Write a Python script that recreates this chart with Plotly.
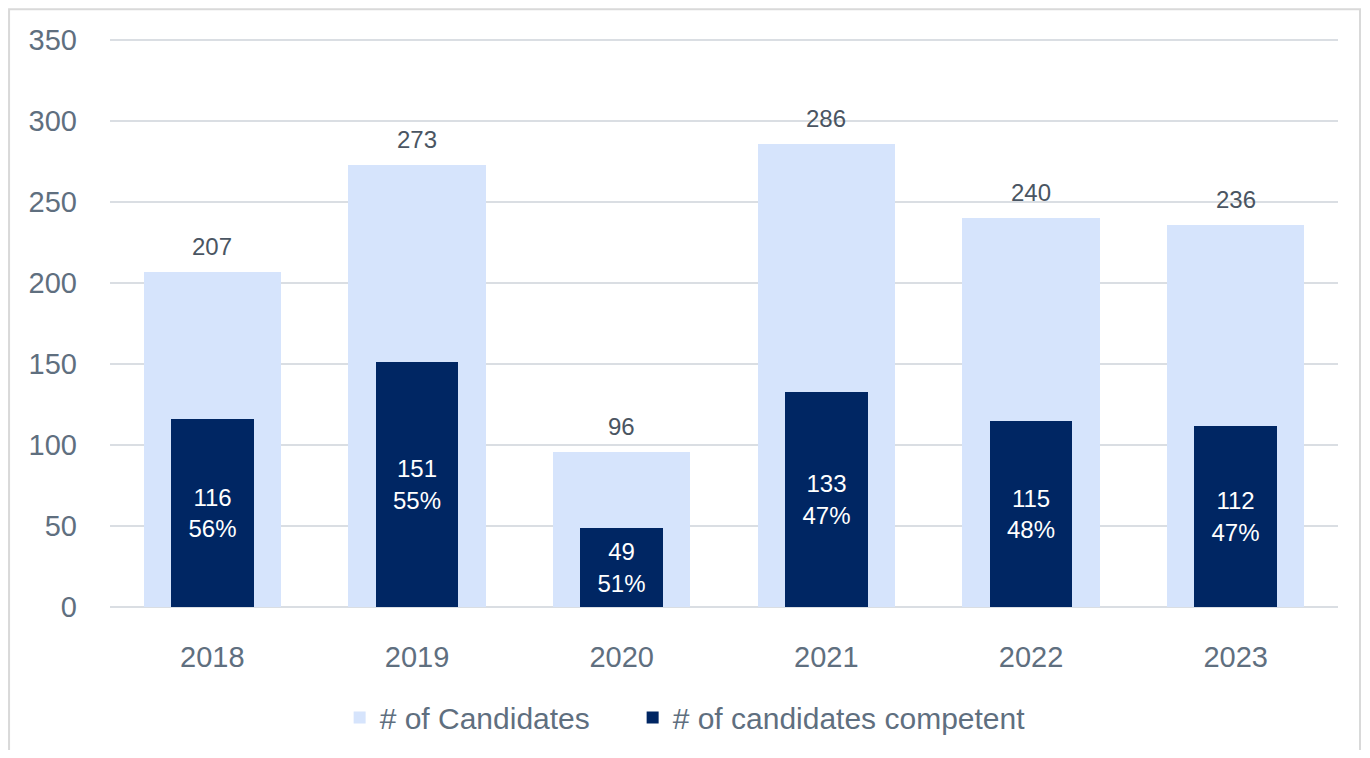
import plotly.graph_objects as go

years = ["2018", "2019", "2020", "2021", "2022", "2023"]
candidates = [207, 273, 96, 286, 240, 236]
competent = [116, 151, 49, 133, 115, 112]
competent_pct = ["56%", "55%", "51%", "47%", "48%", "47%"]
y_ticks = [0, 50, 100, 150, 200, 250, 300, 350]

FONT = "Liberation Sans"
TICK_COLOR = "#5f6f7f"
LABEL_COLOR = "#4a5562"
LIGHT = "#d6e4fc"
DARK = "#002663"
GRID = "#dadee3"

fig = go.Figure()
fig.add_trace(go.Bar(
    x=years, y=candidates, name="# of Candidates",
    marker=dict(color=LIGHT, line=dict(width=0)),
    width=0.67, legend="legend",
))
fig.add_trace(go.Bar(
    x=years, y=competent, name="# of candidates competent",
    marker=dict(color=DARK, line=dict(width=0)),
    width=0.405, legend="legend2",
    text=[f"{v}<br>{p}" for v, p in zip(competent, competent_pct)],
    textposition="inside", insidetextanchor="middle",
    textfont=dict(family=FONT, size=24, color="white"),
    constraintext="none", textangle=0,
))

for i, v in enumerate(candidates):
    fig.add_annotation(
        x=i, y=v, text=str(v), showarrow=False,
        yanchor="bottom", yshift=10,
        font=dict(family=FONT, size=24, color=LABEL_COLOR),
    )

# outer frame
fig.add_shape(type="rect", xref="paper", yref="paper",
              x0=-0.0822, x1=1.0179, y0=-0.3, y1=1.0487,
              line=dict(color="#d9d9d9", width=2), fillcolor="rgba(0,0,0,0)",
              layer="below")

legend_common = dict(orientation="h", y=-0.194, yanchor="middle", xanchor="left",
                     font=dict(family=FONT, size=30, color=TICK_COLOR),
                     itemwidth=30, bgcolor="rgba(0,0,0,0)")

fig.update_layout(
    width=1354, height=742,
    margin=dict(l=102, r=24, t=29, b=143, autoexpand=False),
    paper_bgcolor="white", plot_bgcolor="white",
    barmode="overlay", bargap=0,
    font=dict(family=FONT, color=TICK_COLOR),
    showlegend=True,
    legend=dict(x=0.187, **legend_common),
    legend2=dict(x=0.4256, **legend_common),
    xaxis=dict(type="category", showgrid=False, showline=False, zeroline=False,
               range=[-0.5, len(years) - 0.5],
               tickfont=dict(family=FONT, size=29, color=TICK_COLOR),
               ticks="", ticklabelstandoff=30),
    yaxis=dict(range=[0, 352], tickvals=y_ticks, showgrid=True, gridcolor=GRID, gridwidth=2,
               zeroline=True, zerolinecolor=GRID, zerolinewidth=2, showline=False,
               tickfont=dict(family=FONT, size=29, color=TICK_COLOR),
               ticks="", ticklabelstandoff=32),
)

fig.write_html("out.html")
